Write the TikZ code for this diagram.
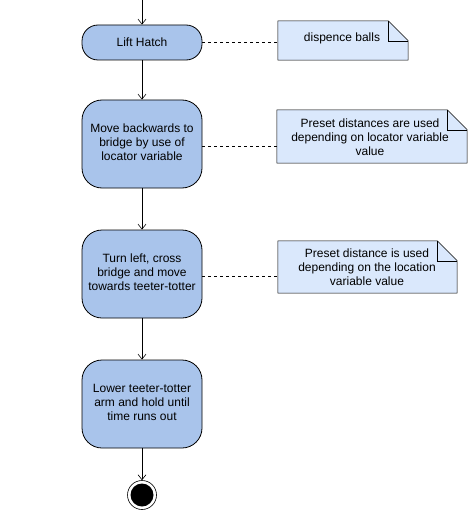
\documentclass[tikz,border=0pt]{standalone}
\usepackage{fontspec}
\setmainfont{Liberation Sans}
\usetikzlibrary{arrows.meta}
\definecolor{actfill}{HTML}{A9C4EB}
\definecolor{notefill}{HTML}{DAE8FC}
\newcommand{\uplines}[1]{\raisebox{2.5pt}{\begin{tabular}{@{}c@{}}#1\end{tabular}}}
\tikzset{
  act/.style={draw=black, line width=0.8pt, fill=actfill, rounded corners=#1, minimum width=120pt, align=center, font=\fontsize{12}{14}\selectfont, inner sep=0pt},
  notebox/.style={minimum width=#1, inner sep=0pt, align=center, font=\fontsize{12}{14}\selectfont},
  flow/.style={draw=black, line width=0.6pt, -{Straight Barb[length=5pt,width=8pt]}},
  link/.style={draw=black, line width=0.6pt, dash pattern=on 3pt off 3pt},
  notedraw/.style={draw=black, line width=0.5pt, fill=notefill}
}
\newcommand{\dogear}[1]{%
  \path[notedraw] (#1.north west) -- ([xshift=-20pt]#1.north east) -- ([yshift=-20pt]#1.north east) -- (#1.south east) -- (#1.south west) -- cycle;
  \draw[line width=0.5pt] ([xshift=-20pt]#1.north east) -- ([xshift=-20pt,yshift=-20pt]#1.north east) -- ([yshift=-20pt]#1.north east);
}
\begin{document}
\begin{tikzpicture}[x=1pt,y=-1pt]
\useasboundingbox (0,0) rectangle (470,516);
\coordinate (top) at (142,0);
\node[act=16pt, minimum height=35pt] (a1) at (142,42.5) {Lift Hatch};
\node[act=20pt, minimum height=88pt] (a2) at (142,144) {\uplines{Move backwards to\\bridge by use of\\locator variable}};
\node[act=20pt, minimum height=88pt] (a3) at (142,274) {\uplines{Turn left, cross\\bridge and move\\towards teeter-totter}};
\node[act=20pt, minimum height=88pt] (a4) at (142,404) {\uplines{Lower teeter-totter\\arm and hold until\\time runs out}};
\node[circle, draw=black, line width=0.6pt, fill=white, minimum size=29pt, inner sep=0pt] (end) at (142,495) {};
\node[circle, fill=black, minimum size=23pt, inner sep=0pt] (endin) at (end) {};

% notes
\node[notebox=130pt, minimum height=39pt] (n1) at (343,40.5) {};
\dogear{n1}
\node[font=\fontsize{12}{14}\selectfont] (t1) at (342,38) {dispence balls};
\node[notebox=190pt, minimum height=53pt] (n2) at (372,136.5) {};
\dogear{n2}
\node[font=\fontsize{12}{14}\selectfont, align=center] (t2) at (370,137) {Preset distances are used\\depending on locator variable\\value};
\node[notebox=179pt, minimum height=52pt] (n3) at (367.5,267) {};
\dogear{n3}
\node[font=\fontsize{12}{14}\selectfont, align=center] (t3) at (367,267) {Preset distance is used\\depending on the location\\variable value};

\draw[flow] (top) -- (a1);
\draw[flow] (a1) -- (a2);
\draw[flow] (a2) -- (a3);
\draw[flow] (a3) -- (a4);
\draw[flow] (a4) -- (end);

\coordinate (l2) at ([yshift=-2pt]a2.east);
\coordinate (l3) at ([yshift=-2pt]a3.east);
\draw[link] (a1.east) -- (n1.west |- a1.east);
\draw[link] (l2) -- (n2.west |- l2);
\draw[link] (l3) -- (n3.west |- l3);
\end{tikzpicture}
\end{document}
